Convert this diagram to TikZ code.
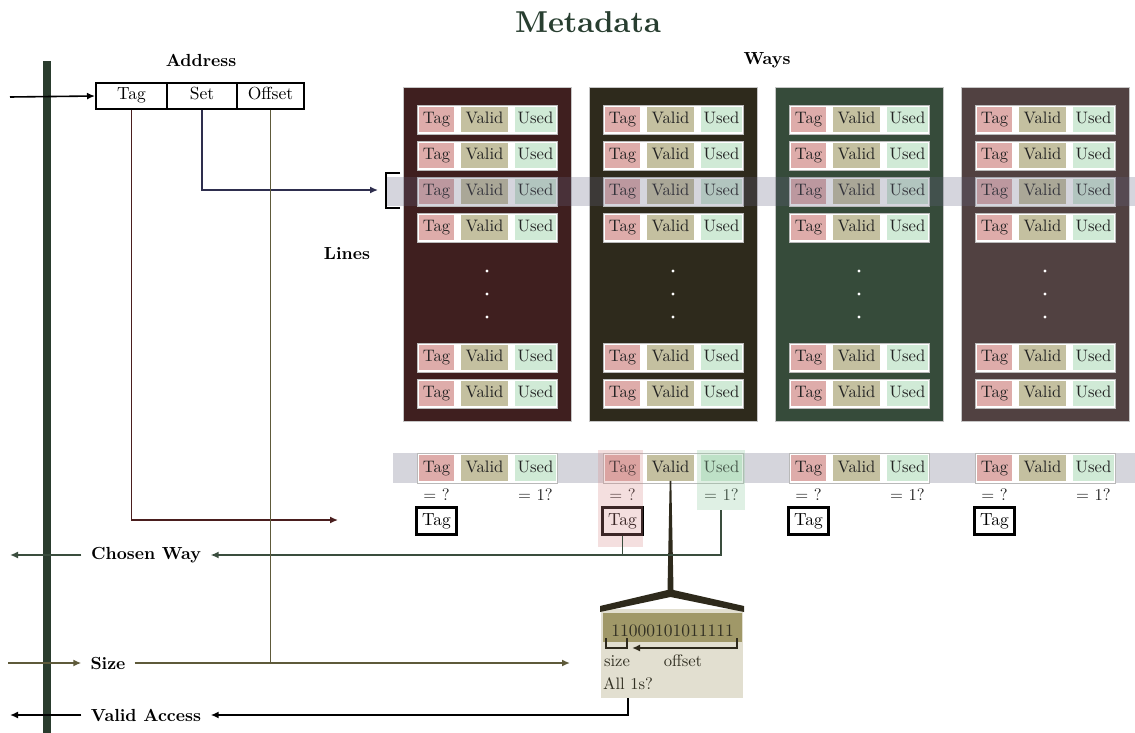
\documentclass[tikz,border=0pt]{standalone}
\usepackage{fontspec}
\setmainfont{lmroman10-regular}[Extension=.otf,BoldFont=lmroman10-bold]
\usetikzlibrary{arrows.meta,calc}
\definecolor{wayA}{RGB}{63,31,31}
\definecolor{wayB}{RGB}{46,42,28}
\definecolor{wayC}{RGB}{54,75,58}
\definecolor{wayD}{RGB}{81,65,65}
\definecolor{tagc}{RGB}{222,172,170}
\definecolor{validc}{RGB}{196,192,160}
\definecolor{usedc}{RGB}{208,234,214}
\definecolor{bandc}{RGB}{213,213,220}
\definecolor{bandov}{RGB}{100,100,130}
\definecolor{busc}{RGB}{42,60,46}
\definecolor{tagln}{RGB}{74,30,30}
\definecolor{setln}{RGB}{46,46,78}
\definecolor{offln}{RGB}{94,90,58}
\definecolor{chosen}{RGB}{58,77,62}
\definecolor{bitouter}{RGB}{226,223,208}
\definecolor{bitband}{RGB}{160,152,104}
\definecolor{titlec}{RGB}{40,62,48}
\definecolor{txt}{RGB}{35,35,35}
\definecolor{bittxt}{RGB}{50,48,35}
\definecolor{hlpink}{RGB}{214,140,140}
\definecolor{hlmint}{RGB}{150,205,165}
\newcommand\fN{\fontsize{17.5}{21}\selectfont}
\newcommand\fS{\fontsize{16.6}{20}\selectfont}
\begin{document}
\begin{tikzpicture}[x=1pt,y=-1pt,>={Latex[length=8pt,width=7pt]},
  lbl/.style={font=\fN\bfseries,inner sep=0},
  rowbox/.style={fill=white,draw=gray!55,line width=0.6pt,minimum width=140,minimum height=29,inner sep=0},
  cell/.style={inner sep=0,minimum height=25.5,text height=11.5pt,text depth=3.5pt,font=\fS,text=txt},
  tagcell/.style={cell,fill=tagc,minimum width=35},
  validcell/.style={cell,fill=validc,minimum width=47},
  usedcell/.style={cell,fill=usedc,minimum width=41},
  addrcell/.style={draw=black,line width=2pt,minimum height=26,inner sep=0,font=\fN,text height=12pt,text depth=4pt},
  tagbox/.style={draw=black,line width=2.4pt,minimum width=40,minimum height=27,inner sep=0,font=\fN,text height=12pt,text depth=4pt},
  small/.style={font=\fS,text=txt,inner sep=0},
  bitlbl/.style={font=\fS,text=bittxt,inner sep=0},
  conn/.style={line width=1.6pt},
]
\useasboundingbox (0,0) rectangle (1135,733);

% title and bus
\node[font=\fontsize{30.2}{36}\selectfont\bfseries,text=titlec,inner sep=0] (title) at (588,22) {Metadata};
\node[fill=busc,minimum width=8,minimum height=672,inner sep=0,anchor=north] (bus) at (47,61) {};

% labels
\node[lbl] (addrlbl) at (201,60) {Address};
\node[lbl] (wayslbl) at (767,60) {Ways};
\node[lbl] (lineslbl) at (347,254) {Lines};

% address
\node[addrcell,minimum width=71] (aT) at (131.5,96) {Tag};
\node[addrcell,minimum width=70] (aS) at (202,96) {Set};
\node[addrcell,minimum width=67] (aO) at (270.5,96) {Offset};

% ways
\foreach \i/\xl/\col in {1/403/wayA,2/589/wayB,3/775/wayC,4/961/wayD}{
  \node[fill=\col,draw=gray!45,line width=0.8pt,minimum width=168,minimum height=334,inner sep=0,anchor=north west] (way\i) at (\xl,87) {};
  \foreach \r/\yt in {1/105,2/141,3/177,4/213,5/343,6/379}{
    \node[rowbox,anchor=north west] (w\i-\r) at (\xl+14,\yt) {};
    \node[tagcell] (w\i-\r-t) at (\xl+33.5,\yt+14.5) {Tag};
    \node[validcell] (w\i-\r-v) at (\xl+81.5,\yt+14.5) {Valid};
    \node[usedcell] (w\i-\r-u) at (\xl+132.5,\yt+14.5) {Used};
  }
  \foreach \yy in {271,294,317} \fill[white] (\xl+84,\yy) circle[radius=1.7];
}

% selected line band and bracket
\node[fill=bandov,fill opacity=0.27,minimum width=749,minimum height=29,inner sep=0,anchor=north west] (selband) at (386,177) {};
\draw[line width=2pt] (400,173) -| (386,208) -- (400,208);

% comparison row
\node[fill=bandc,minimum width=742,minimum height=30,inner sep=0,anchor=north west] (cmpband) at (393,453) {};
\foreach \i/\xl in {1/403,2/589,3/775,4/961}{
  \node[rowbox,minimum height=30,anchor=north west] (b\i) at (\xl+14,453) {};
  \node[tagcell] (b\i-t) at (\xl+33.5,468) {Tag};
  \node[validcell] (b\i-v) at (\xl+81.5,468) {Valid};
  \node[usedcell] (b\i-u) at (\xl+132.5,468) {Used};
  \node[small] (eq\i) at (\xl+33.5,495) {= ?};
  \node[small] (one\i) at (\xl+132.5,495) {= 1?};
  \node[tagbox] (tb\i) at (\xl+33.5,521) {Tag};
}
\node[fill=hlpink,fill opacity=0.28,minimum width=45,minimum height=97,inner sep=0,anchor=north west] (hlT) at (598,450) {};
\node[fill=hlmint,fill opacity=0.3,minimum width=48,minimum height=60,inner sep=0,anchor=north west] (hlU) at (697,450) {};

% bit box
\node[fill=bitouter,minimum width=142,minimum height=89,inner sep=0,anchor=north west] (bitbox) at (601,609) {};
\node[fill=bitband,minimum width=139,minimum height=29,inner sep=0,anchor=north west,font=\fN,text=bittxt,text height=18pt,text depth=0pt] (bits) at (603,613) {11000101011111};
\draw[wayB,line width=1.8pt] (606,638) |- (627,648) -- (627,638);
\draw[wayB,->,line width=1.8pt] (737,638) |- (632,648);
\node[bitlbl] (sizeT) at (617,661) {size};
\node[bitlbl] (offT) at (683,661) {offset};
\node[bitlbl] (all1s) at (628,684) {All 1s?};
\fill[wayB] ($(b2-v.south)+(-0.8,0)$) -- ($(b2-v.south)+(0.8,0)$) -- (673.5,590) -- (744,606) -- (744,612) -- (670.5,597) -- (600,612) -- (600,606) -- (667.5,590) -- cycle;

% left labels
\node[lbl,inner xsep=9.5pt] (chosenL) at (146,555) {Chosen Way};
\node[lbl,inner xsep=9pt] (sizeL) at (108,663) {Size};
\node[lbl,inner xsep=9.5pt] (validL) at (146,715) {Valid Access};

\coordinate (inS) at (10,97);
\coordinate (tagEnd) at (338,520);
\coordinate (setEnd) at (378,190);
\coordinate (sizeIn) at (8,663);
\coordinate (sizeEnd) at (570,663);
\coordinate (cwOut) at (10,555);
\coordinate (vaOut) at (10,715);
\coordinate (sizeJ) at (aO.south |- sizeL);

% connectors
\draw[->,conn] (inS) -- (aT.west);
\draw[tagln,->,line width=1.4pt] (aT.south) |- (tagEnd);
\draw[setln,->,line width=1.4pt] (aS.south) |- (setEnd);
\draw[chosen,->,conn] (tb2.south) |- (chosenL.east);
\draw[chosen,conn] (hlU.south) |- (tb2.south |- chosenL.east);
\draw[chosen,->,conn] (chosenL.west) -- (cwOut);
\draw[offln,->,conn] (sizeIn) -- (sizeL.west);
\draw[offln,->,conn] (sizeL.east) -- (sizeEnd);
\draw[offln,line width=1.4pt] (aO.south) -- (sizeJ);
\draw[->,conn] (all1s.south |- bitbox.south) |- (validL.east);
\draw[->,conn] (validL.west) -- (vaOut);
\end{tikzpicture}
\end{document}
